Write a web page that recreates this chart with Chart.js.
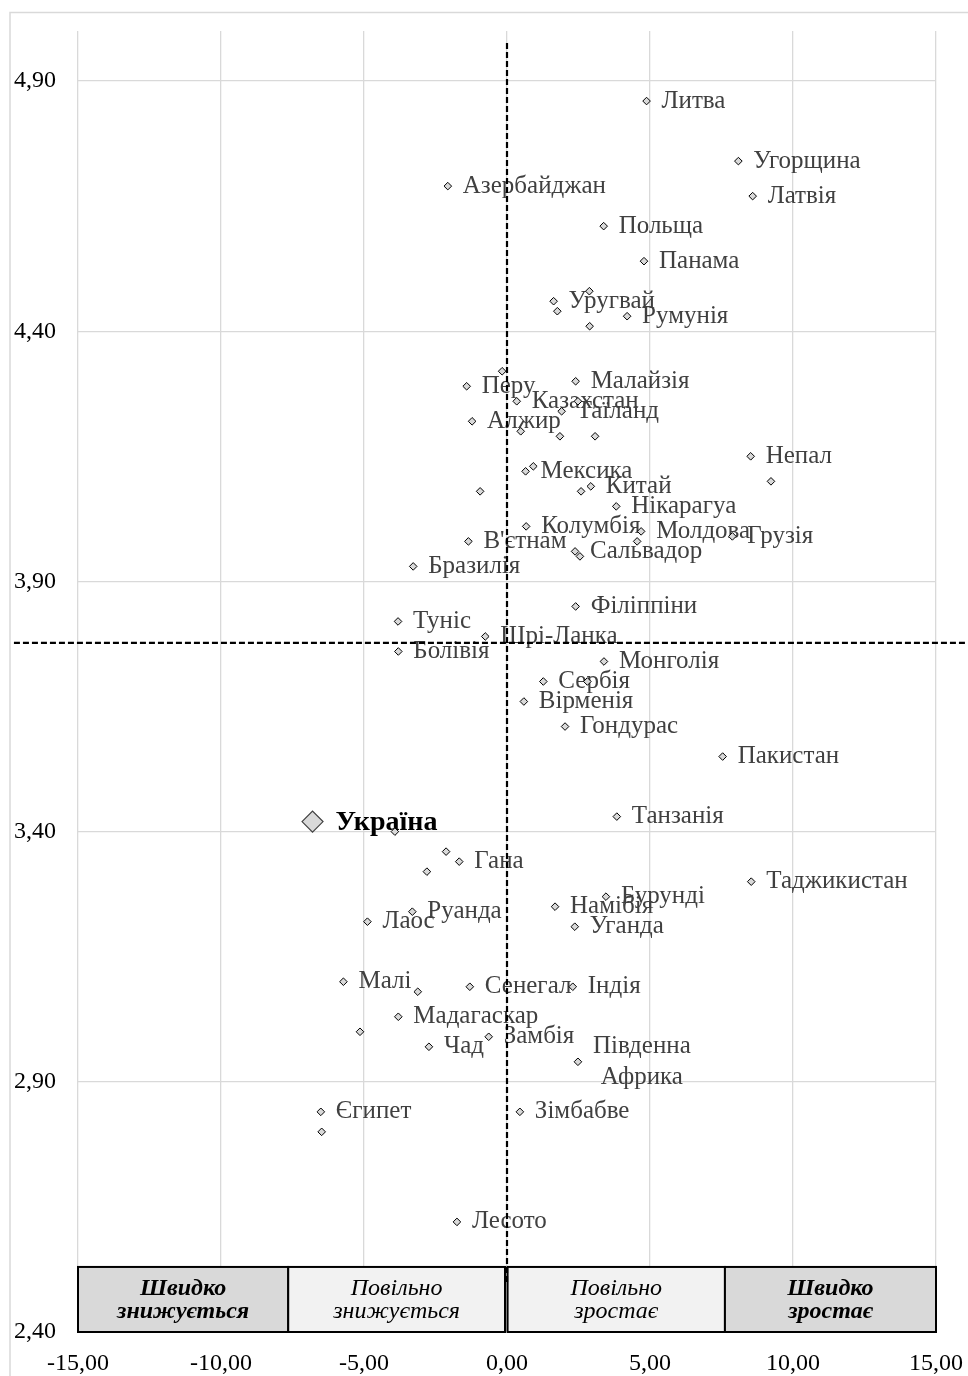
<!DOCTYPE html>
<html>
<head>
<meta charset="utf-8">
<script src="https://cdn.jsdelivr.net/npm/chart.js@4"></script>
<style>
  html, body { margin: 0; padding: 0; background: #fff; }
  #wrap { width: 968px; height: 1376px; position: relative; }
</style>
</head>
<body>
<div id="wrap"><canvas id="myChart"></canvas></div>
<script>
var ctx = document.getElementById("myChart");

// countries: growth (x) vs index value (y), "" = point without a label
const countryNames = [
  "Литва", "Угорщина", "Латвія", "Азербайджан", "Польща", "Панама", "", "Уругвай", "", "Румунія",
  "", "", "Перу", "Малайзія", "Казахстан", "", "Таїланд", "Алжир", "", "",
  "", "Непал", "", "", "Мексика", "", "Китай", "", "Нікарагуа", "Колумбія",
  "Молдова", "", "Грузія", "В'єтнам", "Сальвадор", "", "Бразилія", "Філіппіни", "Туніс", "Шрі-Ланка",
  "Болівія", "Монголія", "Сербія", "", "Вірменія", "Гондурас", "Пакистан", "Танзанія", "", "",
  "Гана", "", "Таджикистан", "Бурунді", "Намібія", "Руанда", "Лаос", "Уганда", "Малі", "Сенегал",
  "Індія", "", "Мадагаскар", "", "Замбія", "Чад", "Південна\nАфрика", "Єгипет", "", "Зімбабве",
  "Лесото"
];
const growthX = [
  4.88, 8.09, 8.59, -2.07, 3.38, 4.79, 2.88, 1.63, 1.76, 4.20,
  2.89, -0.17, -1.41, 2.40, 0.34, 2.48, 1.91, -1.22, 0.48, 1.85,
  3.08, 8.52, 9.23, 0.92, 0.65, -0.94, 2.93, 2.59, 3.82, 0.67,
  4.69, 4.55, 7.88, -1.35, 2.38, 2.55, -3.28, 2.40, -3.81, -0.76,
  -3.80, 3.39, 1.27, 2.81, 0.59, 2.03, 7.54, 3.84, -3.92, -2.13,
  -1.67, -2.80, 8.54, 3.46, 1.68, -3.31, -4.88, 2.37, -5.72, -1.30,
  2.30, -3.12, -3.80, -5.14, -0.64, -2.73, 2.48, -6.51, -6.48, 0.45,
  -1.75
];
const indexY = [
  4.86, 4.74, 4.67, 4.69, 4.61, 4.54, 4.48, 4.46, 4.44, 4.43,
  4.41, 4.32, 4.29, 4.30, 4.26, 4.26, 4.24, 4.22, 4.20, 4.19,
  4.19, 4.15, 4.10, 4.13, 4.12, 4.08, 4.09, 4.08, 4.05, 4.01,
  4.00, 3.98, 3.99, 3.98, 3.96, 3.95, 3.93, 3.85, 3.82, 3.79,
  3.76, 3.74, 3.70, 3.70, 3.66, 3.61, 3.55, 3.43, 3.40, 3.36,
  3.34, 3.32, 3.30, 3.27, 3.25, 3.24, 3.22, 3.21, 3.10, 3.09,
  3.09, 3.08, 3.03, 3.00, 2.99, 2.97, 2.94, 2.84, 2.80, 2.84,
  2.62
];

const ukraineName = "Україна";
const ukraineX = -6.80;
const ukraineY = 3.42;

// dashed reference lines
const meanY = 3.777;
const meanLineX = [-17.24, 16.05];
const zeroLineY = [2.50, 4.98];

const xTicks = [-15, -10, -5, 0, 5, 10, 15];
const yTicks = [2.4, 2.9, 3.4, 3.9, 4.4, 4.9];

// growth zones along the bottom
const zoneFrom = [-15, -7.65, 0.02, 7.62];
const zoneTo = [-7.65, -0.07, 7.62, 15];
const zoneTop = 2.53;
const zoneLines = [["Швидко", "знижується"], ["Повільно", "знижується"], ["Повільно", "зростає"], ["Швидко", "зростає"]];
const zoneStrong = [true, false, false, true];

const SERIF = '"Liberation Serif", "Times New Roman", serif';
const fmt = (v) => v.toFixed(2).replace(".", ",");

function noPad(s) {
  s.paddingLeft = 0; s.paddingRight = 0; s.paddingTop = 0; s.paddingBottom = 0;
}

const decor = {
  id: "decor",
  beforeDraw(chart) {
    const c = chart.ctx;
    c.save();
    c.strokeStyle = "#d9d9d9";
    c.lineWidth = 1.5;
    c.strokeRect(10, 12.5, 1000, 1400);
    c.restore();
  },
  beforeDatasetsDraw(chart) {
    const c = chart.ctx;
    const sx = chart.scales.x, sy = chart.scales.y;
    c.save();
    // zone boxes
    const yb = sy.getPixelForValue(2.4), yt = sy.getPixelForValue(zoneTop);
    zoneFrom.forEach((f, i) => {
      const x0 = sx.getPixelForValue(f), x1 = sx.getPixelForValue(zoneTo[i]);
      c.fillStyle = zoneStrong[i] ? "#d9d9d9" : "#f2f2f2";
      c.fillRect(x0, yt, x1 - x0, yb - yt);
      c.strokeStyle = "#000";
      c.lineWidth = 2;
      c.strokeRect(x0, yt, x1 - x0, yb - yt);
      c.fillStyle = "#000";
      c.font = (zoneStrong[i] ? "italic bold " : "italic ") + "24px " + SERIF;
      c.textAlign = "center";
      c.textBaseline = "alphabetic";
      const cx = (x0 + x1) / 2, cy = (yt + yb) / 2;
      c.fillText(zoneLines[i][0], cx, cy - 4);
      c.fillText(zoneLines[i][1], cx, cy + 18.6);
    });
    // point labels
    const meta = chart.getDatasetMeta(1);
    c.fillStyle = "#404040";
    c.font = "25px " + SERIF;
    c.textBaseline = "middle";
    meta.data.forEach((pt, i) => {
      const name = countryNames[i];
      if (!name) return;
      const lines = name.split("\n");
      if (lines.length === 1) {
        c.textAlign = "left";
        c.fillText(name, pt.x + 15, pt.y);
      } else {
        const w = Math.max(...lines.map((l) => c.measureText(l).width));
        c.textAlign = "center";
        const lh = 30.5;
        lines.forEach((l, k) => {
          c.fillText(l, pt.x + 15 + w / 2, pt.y + (k - (lines.length - 1) / 2) * lh);
        });
      }
    });
    const u = chart.getDatasetMeta(0).data[0];
    c.fillStyle = "#000";
    c.font = "bold 28px " + SERIF;
    c.textAlign = "left";
    c.fillText(ukraineName, u.x + 23, u.y + 1);
    c.restore();
  }
};

new Chart(ctx, {
  data: {
    datasets: [
      {
        type: "scatter",
        label: ukraineName,
        data: [{ x: ukraineX, y: ukraineY }],
        pointStyle: "rectRot",
        pointRadius: 10.5,
        pointHoverRadius: 10.5,
        backgroundColor: "#d9d9d9",
        borderColor: "#404040",
        borderWidth: 1.2,
        order: 2,
      },
      {
        type: "scatter",
        label: "Країни",
        data: growthX.map((x, i) => ({ x: x, y: indexY[i] })),
        pointStyle: "rectRot",
        pointRadius: 3.8,
        pointHoverRadius: 3.8,
        backgroundColor: "#d9d9d9",
        borderColor: "#000",
        borderWidth: 1,
        order: 1,
      },
      {
        type: "line",
        label: "mean",
        data: meanLineX.map((x) => ({ x: x, y: meanY })),
        borderColor: "#000",
        borderWidth: 2.2,
        borderDash: [6, 3],
        pointRadius: 0,
        clip: false,
        order: 0,
      },
      {
        type: "line",
        label: "zero",
        data: zeroLineY.map((y) => ({ x: 0, y: y })),
        borderColor: "#000",
        borderWidth: 2.2,
        borderDash: [6, 3],
        pointRadius: 0,
        clip: false,
        order: 0,
      },
    ],
  },
  options: {
    responsive: true,
    maintainAspectRatio: false,
    animation: false,
    events: [],
    layout: { padding: { left: 0, top: 31, right: 32, bottom: 0 } },
    plugins: { legend: { display: false }, tooltip: { enabled: false } },
    scales: {
      x: {
        type: "linear",
        min: -15,
        max: 15,
        afterBuildTicks: (s) => { s.ticks = xTicks.map((v) => ({ value: v })); },
        afterFit: (s) => { s.height = 44; noPad(s); },
        grid: { color: "#d9d9d9", lineWidth: 1.3, drawTicks: false },
        border: { display: false },
        ticks: {
          color: "#000",
          font: { family: SERIF, size: 24 },
          padding: 17,
          maxRotation: 0,
          callback: (v) => fmt(v),
        },
      },
      y: {
        type: "linear",
        min: 2.4,
        max: 5.0,
        afterBuildTicks: (s) => { s.ticks = yTicks.map((v) => ({ value: v })); },
        afterFit: (s) => { s.width = 78; noPad(s); },
        grid: { color: "#d9d9d9", lineWidth: 1.3, drawTicks: false },
        border: { display: false },
        ticks: {
          color: "#000",
          font: { family: SERIF, size: 24 },
          padding: 22,
          callback: (v) => fmt(v),
        },
      },
    },
  },
  plugins: [decor],
});
</script>
</body>
</html>
